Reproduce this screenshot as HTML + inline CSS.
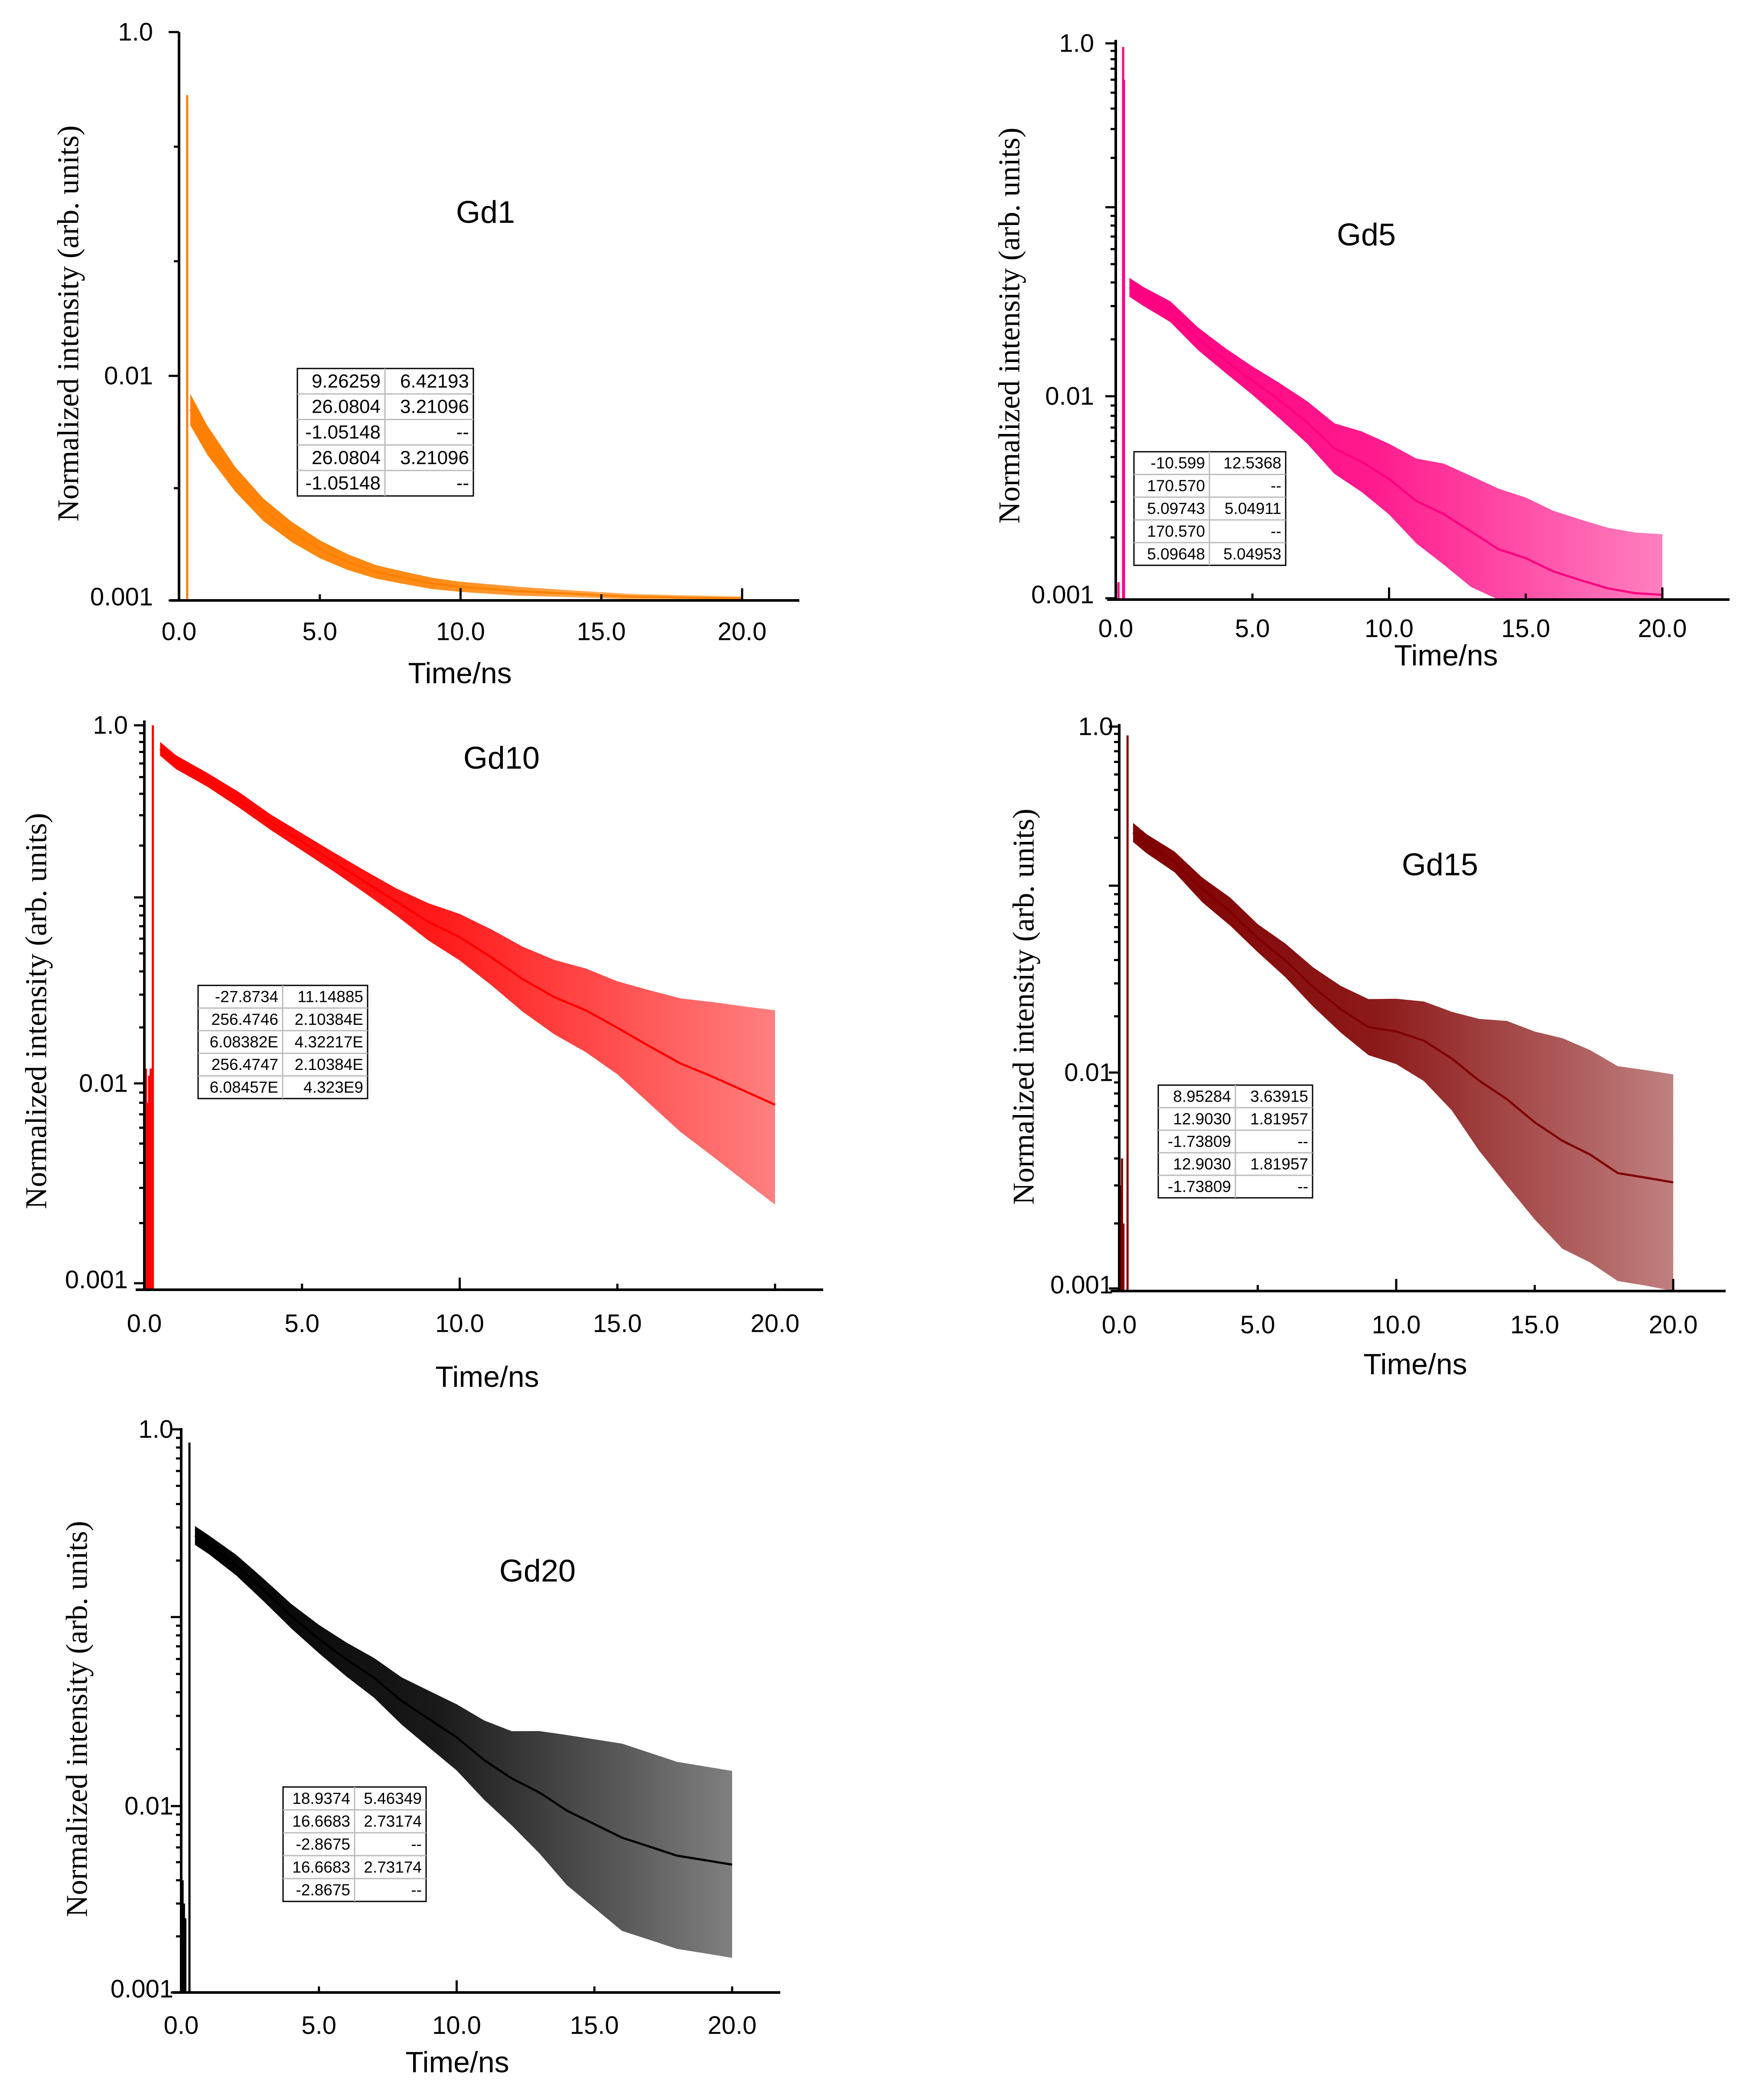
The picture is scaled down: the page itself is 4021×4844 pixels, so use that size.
<!DOCTYPE html>
<html><head><meta charset="utf-8"><title>Gd decay curves</title>
<style>html,body{margin:0;padding:0;background:#fff}svg{display:block}</style></head>
<body>
<svg id="fig" xmlns="http://www.w3.org/2000/svg" width="4021" height="4844" viewBox="0 0 4021 4844">
<rect x="0" y="0" width="4021" height="4844" fill="#fff"/>
</svg>
<script>
// ---------- data ----------
const gd1Times  = [0.4,1,2,3,4,5,6,7,8,9,10,12,14,16,18,20];
const gd1Values = [0.00708,0.00518,0.00346,0.00253,0.00202,0.00169,0.00148,0.00134,0.00126,0.00119,0.00115,0.00110,0.00107,0.00104,0.00103,0.00102];
const gd1Spread = [0.14,0.13,0.11,0.10,0.09,0.08,0.07,0.06,0.055,0.05,0.045,0.04,0.03,0.025,0.02,0.02];
const gd1SpikeT = [0.29];
const gd1SpikeV = [0.43];

const commonTimes = [0.5,1,2,3,4,5,6,7,8,9,10,11,12,13,14,15,16,17,18,19,20];
const gd5Values  = [0.0377,0.0338,0.0280,0.0202,0.0155,0.0121,0.00953,0.00743,0.00551,0.00474,0.00389,0.00303,0.00261,0.00214,0.00175,0.00158,0.00136,0.00123,0.00112,0.00106,0.00104];
const gd5Spread  = [0.10,0.10,0.11,0.12,0.13,0.15,0.18,0.21,0.25,0.30,0.35,0.42,0.50,0.55,0.6,0.6,0.6,0.6,0.6,0.6,0.6];
const gd5SpikeT  = [0.1,0.27,0.3];
const gd5SpikeV  = [0.0012,0.95,0.6];

const gd10Values = [0.730,0.611,0.482,0.369,0.274,0.210,0.161,0.123,0.0947,0.0740,0.0611,0.0477,0.0363,0.0291,0.0247,0.0199,0.0159,0.0128,0.0109,0.00921,0.00782];
const gd10Spread = [0.08,0.08,0.08,0.09,0.09,0.10,0.11,0.13,0.15,0.2,0.25,0.3,0.35,0.4,0.45,0.5,0.6,0.7,0.8,0.9,1.0];
const gd10SpikeT = [0.05,0.1,0.15,0.2,0.27];
const gd10SpikeV = [0.012,0.008,0.011,0.012,1.0];

const gd15Values = [0.216,0.183,0.141,0.0957,0.0728,0.0524,0.0398,0.0287,0.0218,0.0175,0.0166,0.0148,0.0119,0.00916,0.00752,0.00588,0.00483,0.00417,0.00342,0.00326,0.00310];
const gd15Spread = [0.12,0.12,0.13,0.14,0.15,0.15,0.18,0.21,0.25,0.3,0.35,0.42,0.5,0.65,0.8,0.9,1.0,1.0,1.0,1.0,1.0];
const gd15SpikeT = [0.05,0.1,0.15,0.3];
const gd15SpikeV = [0.003,0.004,0.002,0.88];

const gd20Values = [0.272,0.243,0.189,0.139,0.101,0.0765,0.0596,0.0477,0.0360,0.0288,0.0231,0.0175,0.0140,0.0118,0.00946,0.00800,0.00677,0.00606,0.00542,0.00513,0.00485];
const gd20Spread = [0.10,0.10,0.11,0.12,0.13,0.15,0.18,0.21,0.25,0.3,0.35,0.42,0.5,0.65,0.8,0.9,1.0,1.0,1.0,1.0,1.0];
const gd20SpikeT = [0.05,0.1,0.15,0.3];
const gd20SpikeV = [0.004,0.003,0.0025,0.85];

const xTickValues = [0,5,10,15,20];
const xTickLabels = ['0.0','5.0','10.0','15.0','20.0'];

const gd1Table  = [['9.26259','6.42193'],['26.0804','3.21096'],['-1.05148','--'],['26.0804','3.21096'],['-1.05148','--']];
const gd5Table  = [['-10.599','12.5368'],['170.570','--'],['5.09743','5.04911'],['170.570','--'],['5.09648','5.04953']];
const gd10Table = [['-27.8734','11.14885'],['256.4746','2.10384E'],['6.08382E','4.32217E'],['256.4747','2.10384E'],['6.08457E','4.323E9']];
const gd15Table = [['8.95284','3.63915'],['12.9030','1.81957'],['-1.73809','--'],['12.9030','1.81957'],['-1.73809','--']];
const gd20Table = [['18.9374','5.46349'],['16.6683','2.73174'],['-2.8675','--'],['16.6683','2.73174'],['-2.8675','--']];

// ---------- layout ----------
const panels = [
 {id:'gd1',title:'Gd1',color:'#FF8000',times:gd1Times,values:gd1Values,spread:gd1Spread,spT:gd1SpikeT,spV:gd1SpikeV,table:gd1Table,
  ax:413,x20:1712,axEnd:1844,axY:1385,yTop:74,decL:[0,-2,-3],decP:[74,867,1385],style:'odd',labGap:60,
  xlabY:1457,xt:[1061,1553],tt:[1120,490],yt:[158,746],tb:[686,850,1092,1144,888],tbFont:44,tkFont:58,
  ext20:true},
 {id:'gd5',title:'Gd5',color:'#FF0080',times:commonTimes,values:gd5Values,spread:gd5Spread,spT:gd5SpikeT,spV:gd5SpikeV,table:gd5Table,
  ax:2574,x20:3835,axEnd:3990,axY:1383,yTop:92,decL:[0,-1,-2,-3],decP:[100,478,914,1380],style:'log',labGap:50,
  xlabY:1450,xt:[3336,1512],tt:[3152,542],yt:[2329,751],tb:[2616,1042,2966,1304,2790],tbFont:37,tkFont:58,ext20:true},
 {id:'gd10',title:'Gd10',color:'#FF0000',times:commonTimes,values:gd10Values,spread:gd10Spread,spT:gd10SpikeT,spV:gd10SpikeV,table:gd10Table,
  ax:333,x20:1788,axEnd:1899,axY:2975,yTop:1662,decL:[0,-1,-2,-3],decP:[1673,2070,2499,2960],style:'log',labGap:38,
  xlabY:3053,xt:[1124,3176],tt:[1157,1749],yt:[84,2332],tb:[457,2273,848,2534,652],tbFont:37,tkFont:58,ext20:false},
 {id:'gd15',title:'Gd15',color:'#800000',times:commonTimes,values:gd15Values,spread:gd15Spread,spT:gd15SpikeT,spV:gd15SpikeV,table:gd15Table,
  ax:2582,x20:3860,axEnd:3981,axY:2978,yTop:1670,decL:[0,-1,-2,-3],decP:[1676,2043,2474,2972],style:'log',labGap:14,
  xlabY:3056,xt:[3265,3147],tt:[3322,1995],yt:[2362,2322],tb:[2672,2503,3028,2763,2850],tbFont:37,tkFont:58,ext20:true},
 {id:'gd20',title:'Gd20',color:'#000000',times:commonTimes,values:gd20Values,spread:gd20Spread,spT:gd20SpikeT,spV:gd20SpikeV,table:gd20Table,
  ax:418,x20:1689,axEnd:1800,axY:4596,yTop:3294,decL:[0,-1,-2,-3],decP:[3297,3730,4166,4596],style:'log',labGap:18,
  xlabY:4672,xt:[1055,4757],tt:[1240,3624],yt:[178,3965],tb:[653,4122,983,4386,818],tbFont:37,tkFont:58,ext20:false}
];

const NS='http://www.w3.org/2000/svg';
const svg=document.getElementById('fig');
function mk(tag,attrs,parent){const e=document.createElementNS(NS,tag);for(const k in attrs)e.setAttribute(k,attrs[k]);(parent||svg).appendChild(e);return e;}

panels.forEach(p=>{
  const g=mk('g',{});
  
  
  const xs=t=>p.ax+(p.x20-p.ax)*t/20;
  const ys=v=>{let L=Math.log10(Math.max(v,1e-9));const d=p.decL,q=p.decP;
    if(L>=d[0])return q[0]-(L-d[0])*(q[1]-q[0])/(d[0]-d[1]);
    for(let i=0;i<d.length-1;i++){if(L>=d[i+1])return q[i]+(d[i]-L)*(q[i+1]-q[i])/(d[i]-d[i+1]);}
    return p.axY;};
  const cl=y=>Math.min(y,p.axY);

  const defs=mk('defs',{},g);
  const gr=mk('linearGradient',{id:'gr-'+p.id,x1:'0',x2:'1',y1:'0',y2:'0'},defs);
  mk('stop',{offset:'0','stop-color':p.color,'stop-opacity':'1'},gr);
  mk('stop',{offset:'0.45','stop-color':p.color,'stop-opacity':'0.9'},gr);
  mk('stop',{offset:'1','stop-color':p.color,'stop-opacity':'0.5'},gr);

  const up=[],lo=[];
  p.times.forEach((t,i)=>{up.push(xs(t)+','+cl(ys(p.values[i]*Math.pow(10,p.spread[i]/2))));
                        lo.push(xs(t)+','+cl(ys(p.values[i]/Math.pow(10,p.spread[i]/2))));});
  const band=mk('polygon',{points:up.concat(lo.reverse()).join(' '),fill:'url(#gr-'+p.id+')',stroke:'none'},g);
  
  
  const line=mk('polyline',{points:p.times.map((t,i)=>xs(t)+','+cl(ys(p.values[i]))).join(' '),fill:'none',stroke:p.color,'stroke-width':'5'},g);
  
  
  p.spT.forEach((t,i)=>{
    const s=mk('line',{x1:xs(t),x2:xs(t),y1:p.axY,y2:ys(p.spV[i]),stroke:p.color,'stroke-width':'5'},g);
    
    
  });

  const ya=mk('line',{x1:p.ax,x2:p.ax,y1:p.yTop,y2:p.axY+2,stroke:'#000','stroke-width':'6'},g);
  
  
  const xa=mk('line',{x1:p.ax-20,x2:p.axEnd,y1:p.axY,y2:p.axY,stroke:'#000','stroke-width':'6'},g);
  
  

  const major=[];const minor=[];
  if(p.style==='odd'){major.push(0,-2,-3);minor.push(-2/3,-4/3,-2.5);}
  else{major.push(0,-1,-2,-3);for(let d=-3;d<0;d++)for(let k=2;k<10;k++)minor.push(d+Math.log10(k));}
  major.forEach(L=>{const y=ys(Math.pow(10,L));mk('line',{x1:p.ax-24,x2:p.ax,y1:y,y2:y,stroke:'#000','stroke-width':'5'},g);});
  minor.forEach(L=>{const y=ys(Math.pow(10,L));mk('line',{x1:p.ax-12,x2:p.ax,y1:y,y2:y,stroke:'#000','stroke-width':'5'},g);});
  [[0,'1.0'],[-2,'0.01'],[-3,'0.001']].forEach(([L,s])=>{
    const y=(L===-3)?Math.min(ys(0.001),p.axY)-8:ys(Math.pow(10,L));
    const t=mk('text',{x:p.ax-p.labGap,y:y,'text-anchor':'end','dominant-baseline':'central','font-family':'Liberation Sans, sans-serif','font-size':p.tkFont},g);
    t.textContent=s;
    
    
  });
  xTickValues.forEach((v,i)=>{
    const x=xs(v);
    if(v>0){const h=(v===10||(v===20&&p.ext20))?28:14;mk('line',{x1:x,x2:x,y1:p.axY-h,y2:p.axY,stroke:'#000','stroke-width':'5'},g);}
    const t=mk('text',{x:x,y:p.xlabY,'text-anchor':'middle','dominant-baseline':'central','font-family':'Liberation Sans, sans-serif','font-size':p.tkFont},g);
    t.textContent=xTickLabels[i];
    
    
  });
  const xt=mk('text',{x:p.xt[0],y:p.xt[1],'text-anchor':'middle','dominant-baseline':'central','font-family':'Liberation Sans, sans-serif','font-size':'68'},g);
  xt.textContent='Time/ns';
  
  
  const yt=mk('text',{x:0,y:0,transform:'translate('+p.yt[0]+','+p.yt[1]+') rotate(-90)','text-anchor':'middle','dominant-baseline':'central','font-family':'Liberation Serif, serif','font-size':'70'},g);
  yt.textContent='Normalized intensity (arb. units)';
  
  
  const tt=mk('text',{x:p.tt[0],y:p.tt[1],'text-anchor':'middle','dominant-baseline':'central','font-family':'Liberation Sans, sans-serif','font-size':'72'},g);
  tt.textContent=p.title;
  
  

  const [x1,y1,x2,y2,xs2]=p.tb;
  const tg=mk('g',{},g);
  
  
  mk('rect',{x:x1,y:y1,width:x2-x1,height:y2-y1,fill:'#fff',stroke:'#000','stroke-width':'3'},tg);
  const rh=(y2-y1)/5;
  for(let r=1;r<5;r++)mk('line',{x1:x1,x2:x2,y1:y1+r*rh,y2:y1+r*rh,stroke:'#bbb','stroke-width':'3'},tg);
  mk('line',{x1:xs2,x2:xs2,y1:y1,y2:y2,stroke:'#bbb','stroke-width':'3'},tg);
  p.table.forEach((row,r)=>{
    [[xs2-10,row[0]],[x2-10,row[1]]].forEach(([x,s])=>{
      const t=mk('text',{x:x,y:y1+(r+0.5)*rh,'text-anchor':'end','dominant-baseline':'central','font-family':'Liberation Sans, sans-serif','font-size':p.tbFont},tg);
      t.textContent=s;
      
      
    });
  });
});
</script>
</body></html>
